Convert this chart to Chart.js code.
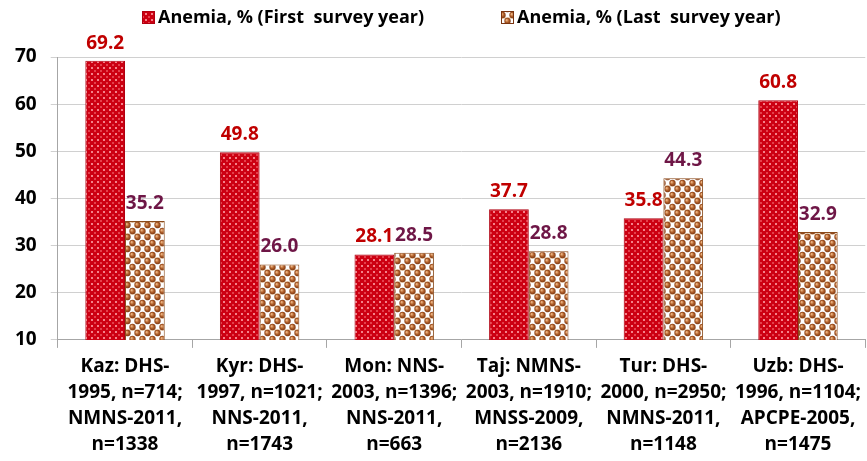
<!DOCTYPE html>
<html>
<head>
    <title>Anemia</title>
    <script src="https://cdn.jsdelivr.net/npm/chart.js"></script>
    <style>
        body { margin: 0; background: #fff; }
        #wrap { width: 867px; height: 461px; }
    </style>
</head>
<body>
    <div id="wrap"><canvas id="chart"></canvas></div>
    <script>
        var categories = [
            ['Kaz: DHS-', '1995, n=714;', 'NMNS-2011,', 'n=1338'],
            ['Kyr: DHS-', '1997, n=1021;', 'NNS-2011,', 'n=1743'],
            ['Mon: NNS-', '2003, n=1396;', 'NNS-2011,', 'n=663'],
            ['Taj: NMNS-', '2003, n=1910;', 'MNSS-2009,', 'n=2136'],
            ['Tur: DHS-', '2000, n=2950;', 'NMNS-2011,', 'n=1148'],
            ['Uzb: DHS-', '1996, n=1104;', 'APCPE-2005,', 'n=1475']
        ];
        var firstSurvey = [69.2, 49.8, 28.1, 37.7, 35.8, 60.8];
        var lastSurvey = [35.2, 26.0, 28.5, 28.8, 44.3, 32.9];
        var seriesNames = ['Anemia, % (First  survey year)', 'Anemia, % (Last  survey year)'];

        var fontFamily = '"Open Sans", Arial, sans-serif';

        // motif rouge à pois
        function redPattern() {
            var c = document.createElement('canvas');
            c.width = 6; c.height = 6;
            var g = c.getContext('2d');
            g.fillStyle = '#CC0012';
            g.fillRect(0, 0, 6, 6);
            g.fillStyle = '#F4828A';
            g.fillRect(1, 1, 2, 2);
            g.fillStyle = '#E4404C';
            g.fillRect(4, 4, 2, 2);
            return g.createPattern(c, 'repeat');
        }

        // motif brun à billes
        function brownPattern() {
            var c = document.createElement('canvas');
            c.width = 10; c.height = 12;
            var g = c.getContext('2d');
            g.fillStyle = '#FFFFFF';
            g.fillRect(0, 0, 10, 12);
            g.fillStyle = '#EED8C0';
            g.fillRect(0, 5, 10, 2);
            function ball(x, y) {
                var grd = g.createRadialGradient(x - 1, y - 1, 0.3, x, y, 3.4);
                grd.addColorStop(0, '#F0B888');
                grd.addColorStop(0.5, '#B0602A');
                grd.addColorStop(1, '#7A3410');
                g.fillStyle = grd;
                g.beginPath();
                g.arc(x, y, 3.2, 0, Math.PI * 2);
                g.fill();
            }
            ball(2.5, 3); ball(12.5, 3); ball(7.5, 9); ball(-2.5, 9); ball(7.5, -3); ball(2.5, 15);
            return g.createPattern(c, 'repeat');
        }

        var fills = [redPattern(), brownPattern()];

        var valueLabels = {
            id: 'valueLabels',
            afterDatasetsDraw: function(chart) {
                var ctx = chart.ctx;
                var colors = ['#C00000', '#6E1646'];
                ctx.save();
                ctx.font = 'bold 19px ' + fontFamily;
                ctx.textAlign = 'center';
                ctx.textBaseline = 'bottom';
                chart.data.datasets.forEach(function(ds, i) {
                    var meta = chart.getDatasetMeta(i);
                    ctx.fillStyle = colors[i];
                    meta.data.forEach(function(bar, j) {
                        ctx.fillText(ds.data[j].toFixed(1), bar.x, bar.y - 8);
                    });
                });
                ctx.restore();
            }
        };

        // légende dessinée à la main pour placer les éléments comme l'original
        var topLegend = {
            id: 'topLegend',
            afterDraw: function(chart) {
                var ctx = chart.ctx;
                var starts = [142, 501];
                var borders = ['#B00010', '#7A3410'];
                ctx.save();
                ctx.font = 'bold 18px ' + fontFamily;
                ctx.textBaseline = 'middle';
                chart.data.datasets.forEach(function(ds, i) {
                    var x = starts[i];
                    ctx.fillStyle = fills[i];
                    ctx.fillRect(x, 11, 13, 13);
                    ctx.strokeStyle = borders[i];
                    ctx.lineWidth = 1;
                    ctx.strokeRect(x + 0.5, 11.5, 12, 12);
                    ctx.fillStyle = '#000';
                    ctx.fillText(ds.label, x + 16, 18);
                });
                ctx.restore();
            }
        };

        var ctx = document.getElementById('chart').getContext('2d');
        var chart = new Chart(ctx, {
            type: 'bar',
            data: {
                labels: categories,
                datasets: [{
                    label: seriesNames[0],
                    data: firstSurvey,
                    backgroundColor: fills[0],
                    borderColor: '#B00010',
                    borderWidth: 1
                }, {
                    label: seriesNames[1],
                    data: lastSurvey,
                    backgroundColor: fills[1],
                    borderColor: '#8A4A1A',
                    borderWidth: 1
                }]
            },
            plugins: [valueLabels, topLegend],
            options: {
                responsive: true,
                maintainAspectRatio: false,
                animation: false,
                layout: { padding: { left: 1, right: 0, top: 57, bottom: -3 } },
                datasets: {
                    bar: { categoryPercentage: 0.59, barPercentage: 1.0 }
                },
                plugins: {
                    legend: { display: false },
                    tooltip: { enabled: false }
                },
                scales: {
                    x: {
                        grid: {
                            display: true,
                            drawOnChartArea: false,
                            drawTicks: true,
                            tickLength: 8,
                            color: '#A6A6A6',
                            offset: true
                        },
                        border: { color: '#A6A6A6' },
                        ticks: {
                            color: '#000',
                            maxRotation: 0,
                            autoSkip: false,
                            padding: 6,
                            font: { family: fontFamily, size: 19, weight: 'bold', lineHeight: 1.37 }
                        }
                    },
                    y: {
                        min: 10,
                        max: 70,
                        ticks: {
                            stepSize: 10,
                            color: '#000',
                            padding: 14,
                            font: { family: fontFamily, size: 19, weight: 'bold' }
                        },
                        grid: {
                            color: '#D0D0D0',
                            drawTicks: true,
                            tickLength: 7
                        },
                        border: { display: true, color: '#A6A6A6' }
                    }
                }
            }
        });
    </script>
</body>
</html>
